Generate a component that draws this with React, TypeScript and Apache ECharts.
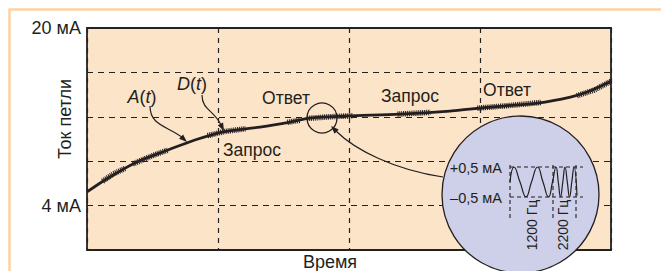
import React, { useEffect, useRef } from 'react';
import * as echarts from 'echarts';

// ---- data ----
const timeRange = [0, 4];
const currentTickLabels: Record<number, string> = { 20: '20 мА', 4: '4 мА' };
const loopT = [0, 0.137, 0.366, 0.618, 0.824, 1.031, 1.32, 1.55, 1.7, 1.98, 2.39, 2.77, 2.92, 3.18, 3.44, 3.69, 3.82, 4.0];
const loopMA = [5.23, 6.31, 7.84, 9.01, 9.91, 10.63, 11.08, 11.53, 11.89, 12.07, 12.25, 12.52, 12.7, 12.97, 13.24, 13.78, 14.23, 15.2];
// FSK-modulated (noisy) stretches of the loop current
const fskSegments: number[][][] = [
  [[0.12, 6.2], [0.2, 6.85], [0.29, 7.35]],
  [[0.35, 7.75], [0.5, 8.5], [0.62, 9.02]],
  [[0.92, 10.3], [1.05, 10.68], [1.21, 10.92]],
  [[1.53, 11.5], [1.63, 11.7]],
  [[1.68, 11.85], [1.85, 12.0], [2.03, 12.1]],
  [[2.37, 12.24], [2.5, 12.32], [2.62, 12.4]],
  [[2.98, 12.78], [3.2, 12.99], [3.47, 13.3]],
  [[3.74, 13.9], [3.87, 14.4], [4.0, 15.2]],
];
// inset: FSK signal (offset, mA)
const waveX = [0, 4, 10, 16, 21.5, 27.5, 33, 38.5, 42.5, 46, 48.3, 50.5, 52.8, 55, 57.3, 59.5, 61.8, 64, 67];
const waveY = [0, 0.5, 0, -0.5, 0, 0.5, 0, -0.5, 0, 0.5, 0, -0.5, 0, 0.5, 0, -0.5, 0, 0.5, -0.45];
const insetLevels = ['+0,5 мА', '–0,5 мА'];
const insetFreqs = ['1200 Гц', '2200 Гц'];
const annotations = { a: 'A', d: 'D', req: 'Запрос', resp: 'Ответ' };

const INK = '#231f20';
const FONT = '"Liberation Sans", Arial, sans-serif';

function arrowHead(tip: number[], from: number[], len = 8, half = 3) {
  const dx = tip[0] - from[0];
  const dy = tip[1] - from[1];
  const l = Math.hypot(dx, dy);
  const ux = dx / l, uy = dy / l;
  const bx = tip[0] - ux * len, by = tip[1] - uy * len;
  return {
    type: 'polygon',
    z: 30,
    shape: { points: [tip, [bx - uy * half, by + ux * half], [bx + uy * half, by - ux * half]] },
    style: { fill: INK },
  };
}

function text(t: string, x: number, y: number, size: number, extra: any = {}) {
  return {
    type: 'text',
    x,
    y,
    z: 30,
    ...extra,
    style: {
      text: t,
      fill: INK,
      fontSize: size,
      fontFamily: FONT,
      textAlign: 'center',
      textVerticalAlign: 'middle',
      ...(extra.style || {}),
    },
  };
}

export default function App() {
  const ref = useRef<HTMLDivElement>(null);
  useEffect(() => {
    if (!ref.current) return;
    const chart = echarts.init(ref.current, undefined, { renderer: 'svg' });
    const dash = (pts: number[][], d = [4, 3]) => ({
      type: 'polyline',
      z: 15,
      shape: { points: pts },
      style: { stroke: INK, lineWidth: 1.1, lineDash: d, fill: 'none' },
    });
    const italicRich = {
      i: { fontStyle: 'italic', fontSize: 18, fontFamily: FONT, fill: INK },
    };
    const option: any = {
      animation: false,
      grid: [
        {
          left: 87, top: 28, width: 524, height: 222,
          show: true, backgroundColor: '#fce4c8', borderColor: '#222', borderWidth: 1.8,
        },
        { left: 510, top: 167, width: 67, height: 30, show: false },
      ],
      xAxis: [
        {
          type: 'value', gridIndex: 0, min: timeRange[0], max: timeRange[1], interval: 1,
          axisLabel: { show: false }, axisTick: { show: false }, axisLine: { show: false },
          splitLine: { show: true, lineStyle: { color: '#222', width: 1.2, type: [5, 5] } },
        },
        { type: 'value', gridIndex: 1, min: 0, max: 67, show: false, splitLine: { show: false } },
      ],
      yAxis: [
        {
          type: 'value', gridIndex: 0, min: 0, max: 20, interval: 4,
          axisTick: { show: false }, axisLine: { show: false },
          axisLabel: {
            formatter: (v: number) => currentTickLabels[v] ?? '',
            color: INK, fontSize: 18, fontFamily: FONT, margin: 6,
          },
          splitLine: { show: true, lineStyle: { color: '#222', width: 1.2, type: [6, 5] } },
        },
        { type: 'value', gridIndex: 1, min: -0.5, max: 0.5, show: false, splitLine: { show: false } },
      ],
      series: [
        ...fskSegments.map((seg) => ({
          type: 'line', xAxisIndex: 0, yAxisIndex: 0, data: seg, symbol: 'none', z: 3,
          lineStyle: { color: INK, width: 5.5, type: [1, 0.9], cap: 'butt' },
          silent: true,
        })),
        {
          type: 'line', xAxisIndex: 0, yAxisIndex: 0, symbol: 'none', smooth: 0.3, z: 4,
          data: loopT.map((t, i) => [t, loopMA[i]]),
          lineStyle: { color: INK, width: 2.8 },
        },
        {
          type: 'line', xAxisIndex: 1, yAxisIndex: 1, symbol: 'none', smooth: 0.5, z: 20,
          data: waveX.map((x, i) => [x, waveY[i]]),
          lineStyle: { color: INK, width: 1.2 },
        },
      ],
      graphic: [
        // outer frame
        {
          type: 'rect', z: 1, shape: { x: 9.5, y: 9.5, width: 800, height: 400 },
          style: { fill: 'none', stroke: '#fcd2a4', lineWidth: 2.5 },
        },
        text('Ток петли', 65, 119, 18, { rotation: Math.PI / 2 }),
        text('Время', 330, 262, 18),
        // labels
        text(`{i|${annotations.a}}({i|t})`, 142, 97, 18, { style: { rich: italicRich } }),
        text(`{i|${annotations.d}}({i|t})`, 192, 84, 18, { style: { rich: italicRich } }),
        text(annotations.req, 252, 150, 17.5),
        text(annotations.resp, 286, 98, 17.5),
        text(annotations.req, 410, 96, 17.5),
        text(annotations.resp, 507, 90, 17.5),
        // A(t) arrow
        {
          type: 'bezierCurve', z: 30,
          shape: { x1: 150, y1: 106, cpx1: 150, cpy1: 126, cpx2: 168, cpy2: 126, x2: 183, y2: 138 },
          style: { stroke: INK, lineWidth: 1.2, fill: 'none' },
        },
        arrowHead([187, 142], [176, 132]),
        // D(t) arrow
        {
          type: 'bezierCurve', z: 30,
          shape: { x1: 202, y1: 95, cpx1: 202, cpy1: 110, cpx2: 214, cpy2: 110, x2: 221, y2: 125 },
          style: { stroke: INK, lineWidth: 1.2, fill: 'none' },
        },
        arrowHead([224, 131], [217, 117]),
        // small circle
        {
          type: 'circle', z: 30, shape: { cx: 322, cy: 118, r: 15 },
          style: { fill: 'none', stroke: INK, lineWidth: 1.3 },
        },
        // connector to inset
        {
          type: 'bezierCurve', z: 30,
          shape: { x1: 443, y1: 177, cpx1: 395, cpy1: 170, cpx2: 355, cpy2: 150, x2: 336, y2: 131 },
          style: { stroke: INK, lineWidth: 1.2, fill: 'none' },
        },
        arrowHead([331, 126], [345, 140]),
        // inset
        {
          type: 'circle', z: 10, shape: { cx: 520.5, cy: 194.5, r: 78.5 },
          style: { fill: '#cecfe8', stroke: INK, lineWidth: 1.3 },
        },
        dash([[510, 167], [583, 167]]),
        dash([[510, 197], [583, 197]]),
        dash([[510, 165], [510, 219]]),
        dash([[553, 165], [553, 219]]),
        dash([[576, 165], [576, 219]]),
        text(insetLevels[0], 502, 168, 14.5, { style: { textAlign: 'right' } }),
        text(insetLevels[1], 502, 198, 14.5, { style: { textAlign: 'right' } }),
        text(insetFreqs[0], 532, 225, 14, { rotation: Math.PI / 2 }),
        text(insetFreqs[1], 563, 225, 14, { rotation: Math.PI / 2 }),
      ],
    };
    chart.setOption(option);
    return () => chart.dispose();
  }, []);
  return (
    <div
      ref={ref}
      style={{ position: 'fixed', left: 0, top: 0, width: 661, height: 271, background: '#fff' }}
    />
  );
}
